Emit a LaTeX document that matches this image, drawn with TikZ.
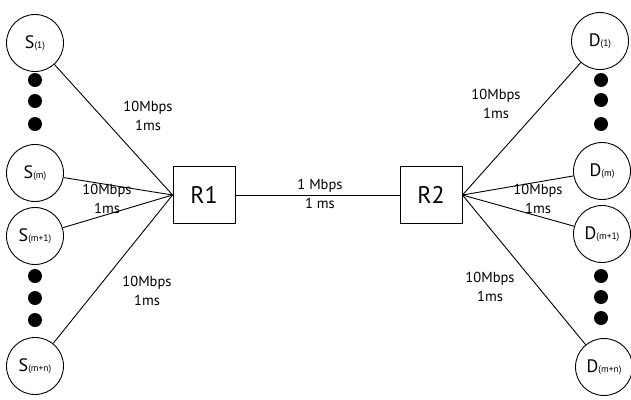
\documentclass[tikz,border=0pt]{standalone}
\usepackage{fontspec}
\setmainfont{PT Sans}
\usepackage{tikz}
\usetikzlibrary{positioning}

\newcommand{\hostlbl}[2]{\fontsize{18}{18}\selectfont #1{\fontsize{9.5}{9.5}\selectfont #2}}

\tikzset{
  host/.style={circle,draw,line width=0.9pt,minimum size=57pt,inner sep=0pt},
  router/.style={rectangle,draw,line width=0.9pt,minimum width=62pt,minimum height=57pt,
    font=\fontsize{24}{24}\selectfont},
  dot/.style={circle,fill=black,minimum size=14pt,inner sep=0pt},
  link/.style={line width=0.9pt},
  linklbl/.style={align=center,font=\fontsize{14.5}{18.5}\selectfont,inner sep=0pt}
}

\begin{document}
\begin{tikzpicture}[x=1pt,y=-1pt]
        \useasboundingbox (0,0) rectangle (631,399);

        % routers
        \node[router] (R1) at (204,195) {R1};
        \node[router] (R2) at (431,195) {R2};

        % sources
        \node[host] (S1) at (35,43) {\hostlbl{S}{(1)}};
        \node[host] (SM) at (35,173) {\hostlbl{S}{(m)}};
        \node[host] (SM1) at (35,236) {\hostlbl{S}{(m+1)}};
        \node[host] (SMN) at (35,366) {\hostlbl{S}{(m+n)}};

        % destinations
        \node[host] (D1) at (600,41) {\hostlbl{D}{(1)}};
        \node[host] (DM) at (602,171) {\hostlbl{D}{(m)}};
        \node[host] (DM1) at (602,234) {\hostlbl{D}{(m+1)}};
        \node[host] (DMN) at (604,367) {\hostlbl{D}{(m+n)}};

        % dots
        \node[dot] (SA1) at (35,80) {};
        \node[dot] (SA2) at (35,101) {};
        \node[dot] (SA3) at (35,124) {};
        \node[dot] (SB1) at (35,276) {};
        \node[dot] (SB2) at (35,298) {};
        \node[dot] (SB3) at (35,320) {};
        \node[dot] (DA1) at (601,80) {};
        \node[dot] (DA2) at (601,100) {};
        \node[dot] (DA3) at (601,124) {};
        \node[dot] (DB1) at (601,276) {};
        \node[dot] (DB2) at (601,297) {};
        \node[dot] (DB3) at (601,318) {};

        % links
        \draw[link] (S1) -- (R1.west);
        \draw[link] (SM) -- (R1.west);
        \draw[link] (SM1) -- (R1.west);
        \draw[link] (SMN) -- (R1.west);
        \draw[link] (R1) -- (R2);
        \draw[link] (D1) -- (R2.east);
        \draw[link] (DM) -- (R2.east);
        \draw[link] (DM1) -- (R2.east);
        \draw[link] (DMN) -- (R2.east);

        % link labels
        \node[linklbl] (LS1) at (148,116) {10Mbps\\1ms};
        \node[linklbl] (LSM) at (107,199) {10Mbps\\1ms};
        \node[linklbl] (LSMN) at (147,291) {10Mbps\\1ms};
        \node[linklbl] (LR) at (320,194) {1 Mbps\\1 ms};
        \node[linklbl] (LD1) at (496,104) {10Mbps\\1ms};
        \node[linklbl] (LDM) at (538,199) {10Mbps\\1ms};
        \node[linklbl] (LDMN) at (490,287) {10Mbps\\1ms};
\end{tikzpicture}
\end{document}
